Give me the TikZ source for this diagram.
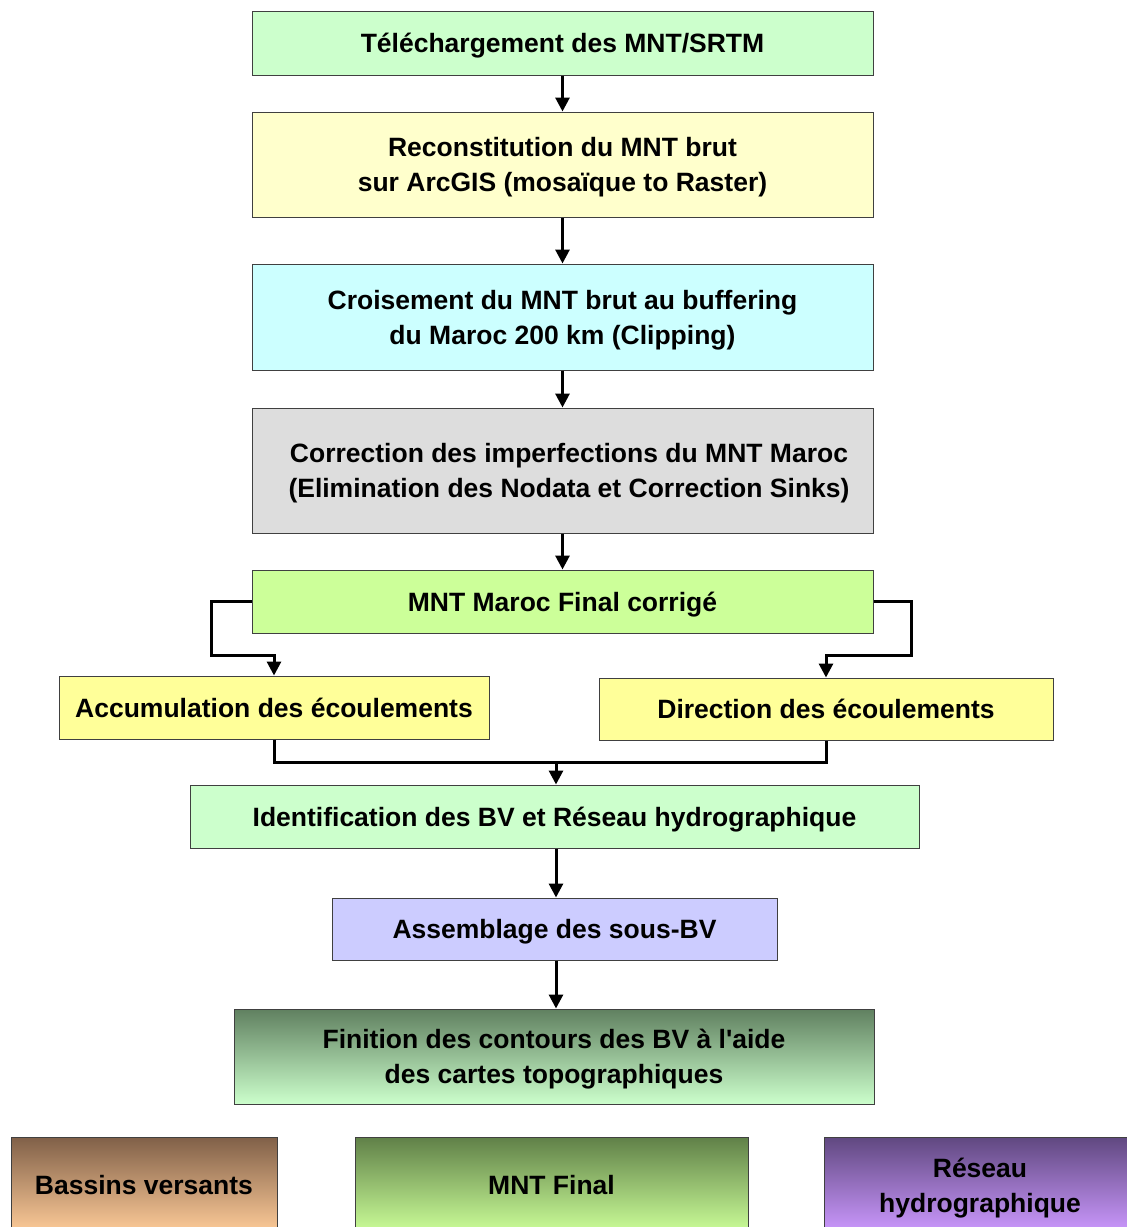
\documentclass[tikz,border=0pt]{standalone}
\usepackage{fontspec}
\setmainfont{Liberation Sans}[Ligatures=TeXOff]
\usetikzlibrary{arrows.meta}

\definecolor{vertpale}{RGB}{204,255,204}
\definecolor{jaunepale}{RGB}{255,255,204}
\definecolor{cyanpale}{RGB}{204,255,255}
\definecolor{grispale}{RGB}{221,221,221}
\definecolor{vertclair}{RGB}{204,255,153}
\definecolor{jaune}{RGB}{255,255,153}
\definecolor{lavande}{RGB}{204,204,255}
\definecolor{vertfonce}{RGB}{96,128,96}
\definecolor{brun}{RGB}{128,96,72}
\definecolor{orangepale}{RGB}{255,204,153}
\definecolor{olive}{RGB}{96,128,72}
\definecolor{violet}{RGB}{96,72,128}
\definecolor{mauve}{RGB}{204,153,255}

\tikzset{
    etape/.style={draw=black!75, line width=0.5pt, align=center, inner sep=0pt,
        font=\bfseries\fontsize{13.25}{17.5}\selectfont,
        text height=13pt, text depth=3.5pt},
    deuxlignes/.style={text height=30.5pt},
    fleche/.style={-{Triangle[length=7pt,width=7pt]}, line width=1.5pt},
    trait/.style={line width=1.5pt}
}

\begin{document}
\begin{tikzpicture}[x=0.5pt, y=-0.5pt]
    \useasboundingbox (0,0) rectangle (1126,1227);

    \node[etape, fill=vertpale, minimum width=310.5pt, minimum height=32pt] (telech) at (562.5,43) {Téléchargement des MNT/SRTM};
    \node[etape, deuxlignes, fill=jaunepale, minimum width=310.5pt, minimum height=52.5pt] (recons) at (562.5,164.5) {Reconstitution du MNT brut\\sur ArcGIS (mosaïque to Raster)};
    \node[etape, deuxlignes, fill=cyanpale, minimum width=310.5pt, minimum height=53pt] (crois) at (562.5,317) {Croisement du MNT brut au buffering\\du Maroc 200 km (Clipping)};
    \node[etape, deuxlignes, fill=grispale, minimum width=310.5pt, minimum height=62.5pt] (correc) at (562.5,470.5) {\hspace{6.5pt}Correction des imperfections du MNT Maroc\\\hspace{6.5pt}(Elimination des Nodata et Correction Sinks)};
    \node[etape, fill=vertclair, minimum width=310.5pt, minimum height=31.5pt] (mntcor) at (562.5,601.5) {MNT Maroc Final corrigé};

    \node[etape, fill=jaune, minimum width=215pt, minimum height=31.5pt] (accum) at (274,707.5) {Accumulation des écoulements};
    \node[etape, fill=jaune, minimum width=227pt, minimum height=31pt] (direc) at (826,709) {Direction des écoulements};

    \node[etape, fill=vertpale, minimum width=364.5pt, minimum height=31.5pt] (ident) at (554.5,816.5) {Identification des BV et Réseau hydrographique};
    \node[etape, fill=lavande, minimum width=222.5pt, minimum height=31pt] (assem) at (554.5,929) {Assemblage des sous-BV};
    \node[etape, deuxlignes, top color=vertfonce, bottom color=vertpale, minimum width=320pt, minimum height=47.5pt] (finit) at (554,1056.5) {Finition des contours des BV à l'aide\\des cartes topographiques};

    \node[etape, top color=brun, bottom color=orangepale, minimum width=133pt, minimum height=48pt] (bassins) at (144,1185) {Bassins versants};
    \node[etape, top color=olive, bottom color=vertclair, minimum width=196.5pt, minimum height=48pt] (mntfin) at (551.5,1185) {MNT Final};
    \node[etape, deuxlignes, top color=violet, bottom color=mauve, minimum width=156pt, minimum height=48pt] (reseau) at (980,1185) {Réseau\\hydrographique};

    \draw[fleche] (telech) -- (recons);
    \draw[fleche] (recons) -- (crois);
    \draw[fleche] (crois) -- (correc);
    \draw[fleche] (correc) -- (mntcor);

    \draw[fleche] (mntcor.west) -- ++(-40,0) -- ++(0,54) -| (accum.north);
    \draw[fleche] (mntcor.east) -- ++(38,0) -- ++(0,54) -| (direc.north);

    \coordinate (jonction) at (556,762);
    \draw[trait] (accum.south) |- (jonction) -| (direc.south);
    \draw[fleche] (jonction) -- (jonction |- ident.north);

    \draw[fleche] (ident.south -| jonction) -- (assem.north -| jonction);
    \draw[fleche] (assem.south -| jonction) -- (finit.north -| jonction);
\end{tikzpicture}
\end{document}
